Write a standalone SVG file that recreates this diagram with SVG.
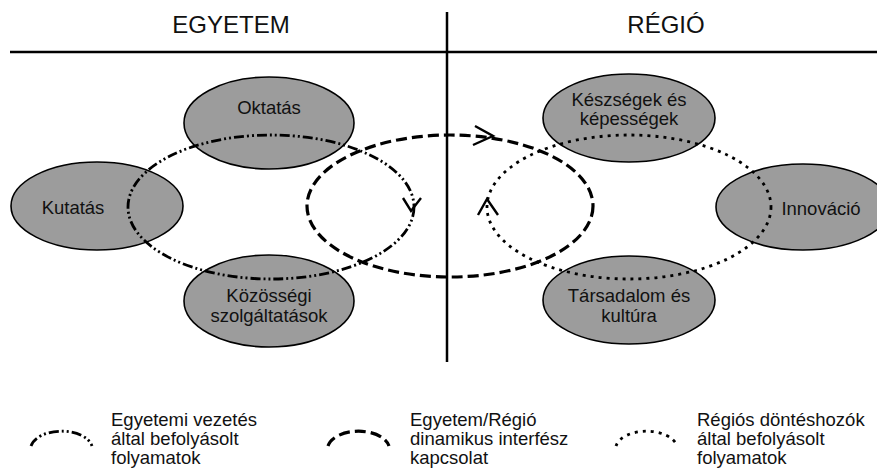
<svg xmlns="http://www.w3.org/2000/svg" width="877" height="472" viewBox="0 0 877 472">
<style>
text{font-family:"Liberation Sans",Arial,sans-serif;fill:#111;}
.title{font-size:24px;text-anchor:middle;}
.lbl{font-size:18.5px;text-anchor:middle;}
.leg{font-size:18.5px;}
.node{fill:#9c9c9c;stroke:#000;stroke-width:1.6;}
.ddot{fill:none;stroke:#000;stroke-width:2.8;stroke-dasharray:10 3 2 3 2 3;}
.dash{fill:none;stroke:#000;stroke-width:3.2;stroke-dasharray:11 5;}
.dot{fill:none;stroke:#000;stroke-width:2.8;stroke-dasharray:3 5;}
.arr{fill:none;stroke:#000;stroke-width:2.4;stroke-linejoin:miter;}
</style>
<rect width="877" height="472" fill="#fff"/>
<g id="frame">
<line x1="10" y1="52" x2="877" y2="52" stroke="#000" stroke-width="2.5"/>
<line x1="447" y1="12" x2="447" y2="362" stroke="#000" stroke-width="2.5"/>
<text class="title" x="231" y="33">EGYETEM</text>
<text class="title" x="666" y="33">RÉGIÓ</text>
</g>
<g id="oktatas"><ellipse class="node" cx="269" cy="123" rx="85" ry="46"/><text class="lbl" x="269" y="114">Oktatás</text></g>
<g id="kutatas"><ellipse class="node" cx="97" cy="206" rx="86" ry="44"/><text class="lbl" x="73" y="214">Kutatás</text></g>
<g id="kozossegi"><ellipse class="node" cx="269" cy="301" rx="85" ry="46"/><text class="lbl" x="269" y="302">Közösségi</text><text class="lbl" x="269" y="322">szolgáltatások</text></g>
<g id="keszsegek"><ellipse class="node" cx="629" cy="118" rx="86" ry="44"/><text class="lbl" x="629" y="106">Készségek és</text><text class="lbl" x="629" y="125">képességek</text></g>
<g id="innovacio"><ellipse class="node" cx="803" cy="207" rx="87" ry="43"/><text class="lbl" x="821" y="215">Innováció</text></g>
<g id="tarsadalom"><ellipse class="node" cx="629" cy="300" rx="86" ry="44"/><text class="lbl" x="629" y="302">Társadalom és</text><text class="lbl" x="629" y="322">kultúra</text></g>
<g id="connectors">
<ellipse class="ddot" cx="271" cy="207" rx="143" ry="72"/>
<ellipse class="dash" cx="450" cy="206" rx="143" ry="71"/>
<ellipse class="dot" cx="629" cy="207" rx="142" ry="72"/>
<polyline class="arr" points="403,198 411,211 421,198"/>
<polyline class="arr" points="475,126 493,136 473,145"/>
<polyline class="arr" points="478,215 487,199 498,215"/>
</g>
<g id="legend">
<path class="ddot" d="M31,446 A31,18 0 0 1 92,446"/>
<text class="leg" x="111" y="426">Egyetemi vezetés</text>
<text class="leg" x="111" y="445">által befolyásolt</text>
<text class="leg" x="111" y="464">folyamatok</text>
<path class="dash" d="M328,446 A31,18 0 0 1 389,446"/>
<text class="leg" x="410" y="426">Egyetem/Régió</text>
<text class="leg" x="410" y="445">dinamikus interfész</text>
<text class="leg" x="410" y="464">kapcsolat</text>
<path class="dot" d="M616,446 A31,18 0 0 1 677,446"/>
<text class="leg" x="697" y="426">Régiós döntéshozók</text>
<text class="leg" x="697" y="445">által befolyásolt</text>
<text class="leg" x="697" y="464">folyamatok</text>
</g>
</svg>
